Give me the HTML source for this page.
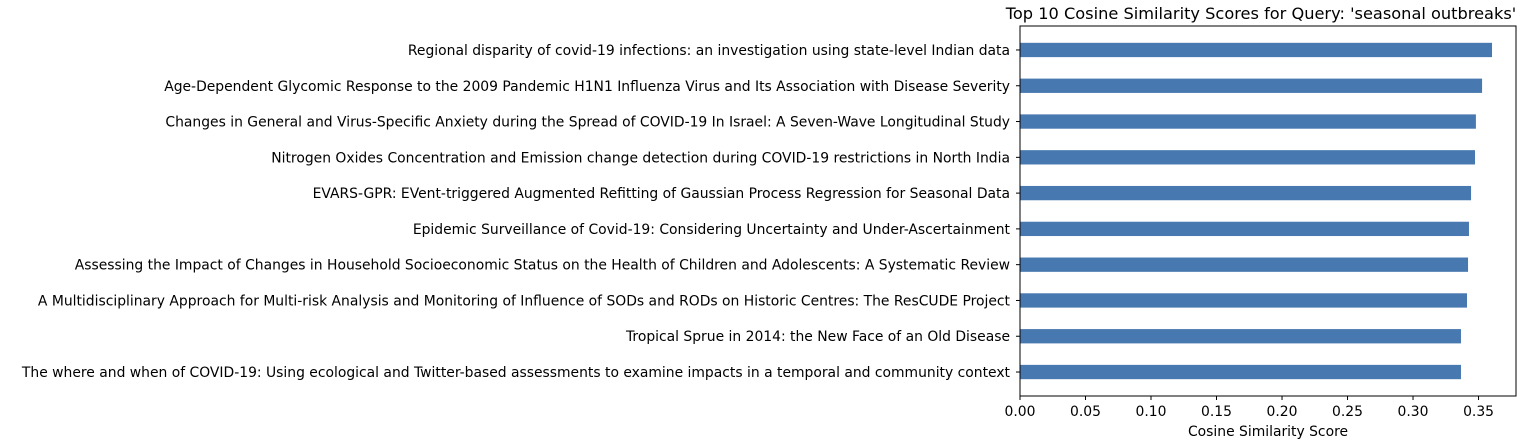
<!DOCTYPE html>
<html><head><meta charset="utf-8"><style>
body{margin:0;background:#fff;}
svg{display:block;font-family:"DejaVu Sans","Liberation Sans",sans-serif;}
</style></head><body>
<svg id="chart" width="1540" height="448" xmlns="http://www.w3.org/2000/svg"></svg>
<script>
const categories = [
"Regional disparity of covid-19 infections: an investigation using state-level Indian data",
"Age-Dependent Glycomic Response to the 2009 Pandemic H1N1 Influenza Virus and Its Association with Disease Severity",
"Changes in General and Virus-Specific Anxiety during the Spread of COVID-19 In Israel: A Seven-Wave Longitudinal Study",
"Nitrogen Oxides Concentration and Emission change detection during COVID-19 restrictions in North India",
"EVARS-GPR: EVent-triggered Augmented Refitting of Gaussian Process Regression for Seasonal Data",
"Epidemic Surveillance of Covid-19: Considering Uncertainty and Under-Ascertainment",
"Assessing the Impact of Changes in Household Socioeconomic Status on the Health of Children and Adolescents: A Systematic Review",
"A Multidisciplinary Approach for Multi-risk Analysis and Monitoring of Influence of SODs and RODs on Historic Centres: The ResCUDE Project",
"Tropical Sprue in 2014: the New Face of an Old Disease",
"The where and when of COVID-19: Using ecological and Twitter-based assessments to examine impacts in a temporal and community context"
];
const scores = [0.3603,0.3527,0.3480,0.3473,0.3443,0.3427,0.3420,0.3412,0.3366,0.3366];
const xTicks = [0,0.05,0.10,0.15,0.20,0.25,0.30,0.35];
const xTickLabels = ["0.00","0.05","0.10","0.15","0.20","0.25","0.30","0.35"];

const L=1020,R=1516,T=26,B=396;
const xMax=0.3786;
const n=categories.length;
const yMin=-0.67,yMax=n-1+0.67;
const FS='13.9px';
const xs=v=>L+v/xMax*(R-L);
const ys=i=>T+(i-yMin)/(yMax-yMin)*(B-T);
const svg=document.getElementById('chart');
const NS='http://www.w3.org/2000/svg';
function mk(tag,attrs,text){const e=document.createElementNS(NS,tag);for(const k in attrs)e.setAttribute(k,attrs[k]);if(text!==undefined)e.textContent=text;svg.appendChild(e);return e;}
const bh=(ys(1)-ys(0))*0.4;
scores.forEach((v,i)=>{
  const r=mk('rect',{x:L,y:ys(i)-bh/2,width:xs(v)-L,height:bh,fill:'#4878b0'});
  
  
  const tk=mk('line',{x1:L-4,x2:L,y1:ys(i),y2:ys(i),stroke:'#000','stroke-width':1});
  
  
  const t=mk('text',{x:L-10,y:ys(i)+5,'text-anchor':'end','font-size':FS,fill:'#000'},categories[i]);
  
  
});
xTicks.forEach((v,i)=>{
  const tk=mk('line',{x1:xs(v),x2:xs(v),y1:B,y2:B+4,stroke:'#000','stroke-width':1});
  
  
  const t=mk('text',{x:xs(v),y:B+20,'text-anchor':'middle','font-size':FS,fill:'#000'},xTickLabels[i]);
  
  
});
const frame=mk('rect',{x:L,y:T,width:R-L,height:B-T,fill:'none',stroke:'#000','stroke-width':1});


const xt=mk('text',{x:1268,y:436,'text-anchor':'middle','font-size':FS,fill:'#000'},'Cosine Similarity Score');


const ti=mk('text',{x:1261,y:19,'text-anchor':'middle','font-size':'16.2px',fill:'#000'},"Top 10 Cosine Similarity Scores for Query: 'seasonal outbreaks'");


</script>
</body></html>
